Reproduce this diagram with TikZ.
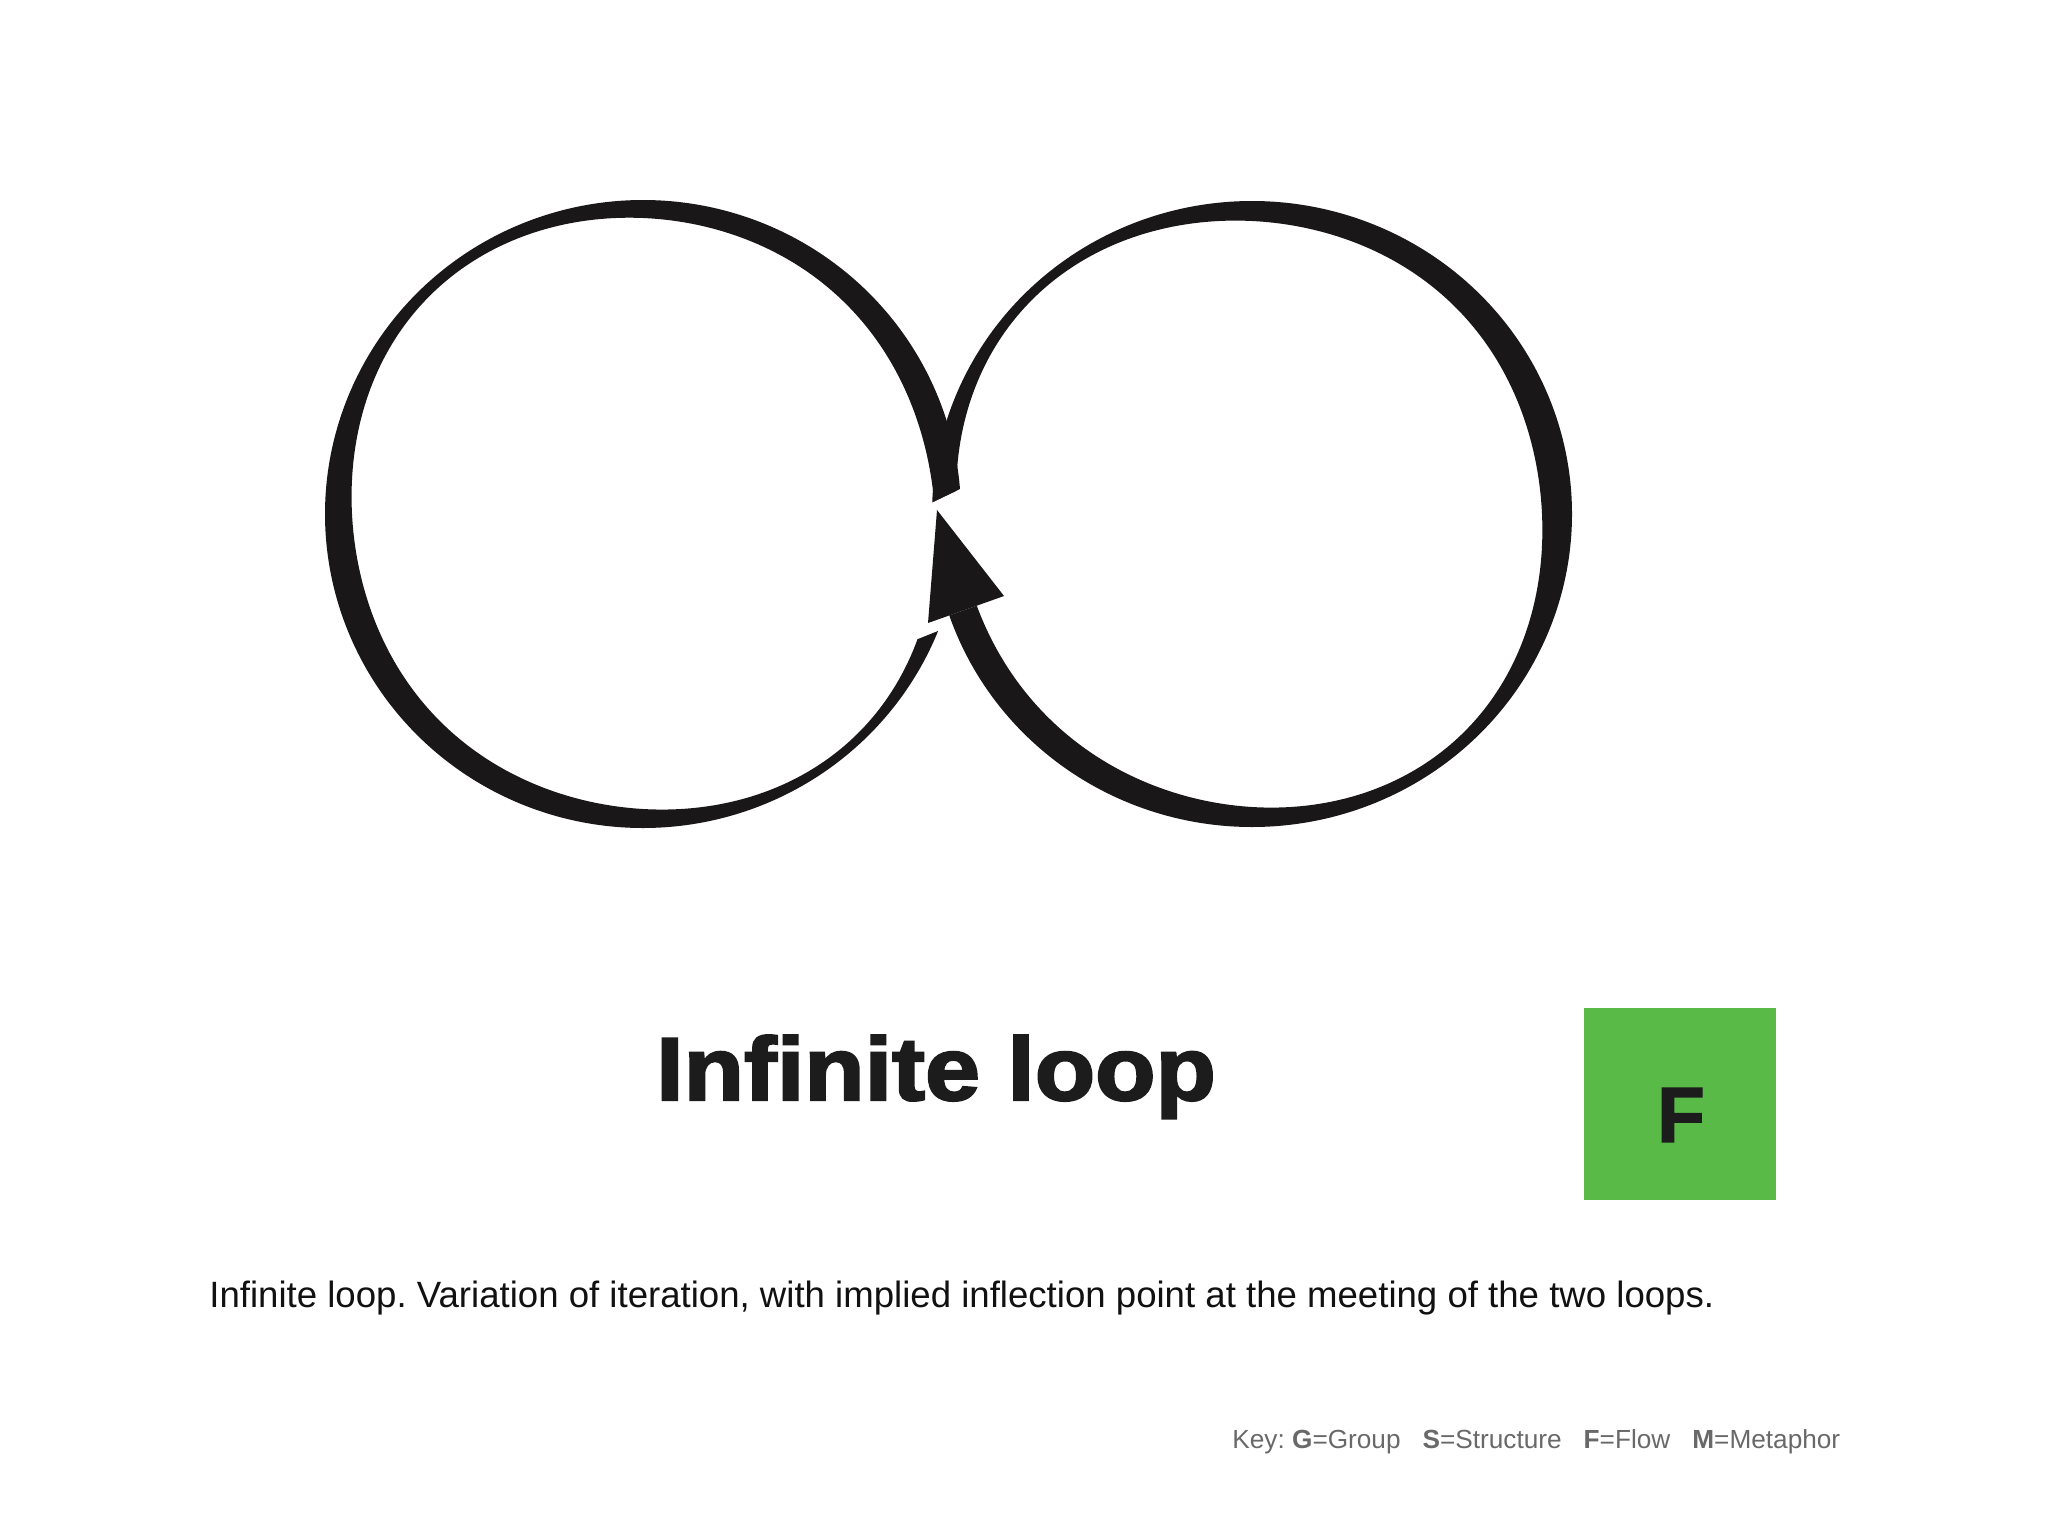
\documentclass[tikz,border=0pt]{standalone}
\usepackage{fontspec}
\setmainfont{Liberation Sans}
\newfontfamily\titlefont[FakeStretch=1.105, BoldFeatures={FakeBold=2.6}]{Liberation Sans}
\newfontfamily\boxfont[BoldFeatures={FakeBold=1.8}]{Liberation Sans}
\definecolor{inkc}{RGB}{26,23,24}
\definecolor{titlec}{RGB}{28,28,28}
\definecolor{fgreen}{RGB}{89,186,71}
\definecolor{capc}{RGB}{17,17,17}
\definecolor{keyc}{RGB}{105,105,105}
\frenchspacing
\begin{document}
\begin{tikzpicture}[x=0.5pt, y=-0.5pt,
  declare function={
    wL(\t)=20-0.96*cos(\t)+0.25*sin(\t)+4*cos(2*\t)-7.5*sin(2*\t)+0.46*cos(3*\t)-0.25*sin(3*\t)+2.5*cos(4*\t);
    wR(\t)=21.5+1.425*cos(\t)+0.885*sin(\t)+3.75*cos(2*\t)-8.25*sin(2*\t)+1.075*cos(3*\t)+0.885*sin(3*\t)+2.25*cos(4*\t);
  },
  ring/.style={fill=inkc, even odd rule},
  plain/.style={anchor=base west, inner sep=0pt},
]
\useasboundingbox (0,0) rectangle (2048,1536);
\fill[white] (0,0) rectangle (2048,1536);

% left loop
\begin{scope}
  \clip (0,0) -- (1100,0) -- (1100,421.4) -- (880,527.6) -- (880,654.2) -- (1100,566.2) -- (1100,1536) -- (0,1536) -- cycle;
  \fill[ring]
    plot[domain=0:360, samples=361, variable=\t] ({643+318*cos(\t)}, {514+314*sin(\t)}) -- cycle
    plot[domain=0:360, samples=361, variable=\t] ({643+(318-wL(\t))*cos(\t)}, {514+(314-wL(\t))*sin(\t)}) -- cycle;
\end{scope}

% right loop
\begin{scope}
  \clip (800,0) -- (2048,0) -- (2048,1536) -- (800,1536) -- (800,668.5) -- (1060,576.1) -- (1060,440.7) -- (800,566.2) -- cycle;
  \fill[ring]
    plot[domain=0:360, samples=361, variable=\t] ({1252+320*cos(\t)}, {514+313*sin(\t)}) -- cycle
    plot[domain=0:360, samples=361, variable=\t] ({1252+(320-wR(\t))*cos(\t)}, {514+(313-wR(\t))*sin(\t)}) -- cycle;
\end{scope}

% arrowhead
\coordinate (tip) at (937,510);
\coordinate (barb) at (1004,596);
\coordinate (heel) at (928,623);
\fill[inkc] (tip) -- (barb) -- (heel) -- cycle;

% title
\node[anchor=base, inner sep=0pt, text=titlec, font=\titlefont\bfseries\fontsize{44.7}{50}\selectfont] (title) at (936,1100) {Infinite loop};

% F box
\node[fill=fgreen, minimum width=96pt, minimum height=96pt, inner sep=0pt, anchor=north west] (fbox) at (1584,1008) {};
\node[inner sep=0pt, text=titlec, font=\boxfont\bfseries\fontsize{39}{40}\selectfont] (flabel) at (1681,1115) {F};

% caption
\node[plain, text=capc, font=\fontsize{18.3}{22}\selectfont] (caption) at (209,1307) {Infinite loop. Variation of iteration, with implied inflection point at the meeting of the two loops.};

% key
\node[plain, text=keyc, font=\fontsize{13.1}{16}\selectfont] (key) at (1232,1448) {Key: \textbf{G}=Group\hspace{0.84em}\textbf{S}=Structure\hspace{0.84em}\textbf{F}=Flow\hspace{0.84em}\textbf{M}=Metaphor};
\end{tikzpicture}
\end{document}
